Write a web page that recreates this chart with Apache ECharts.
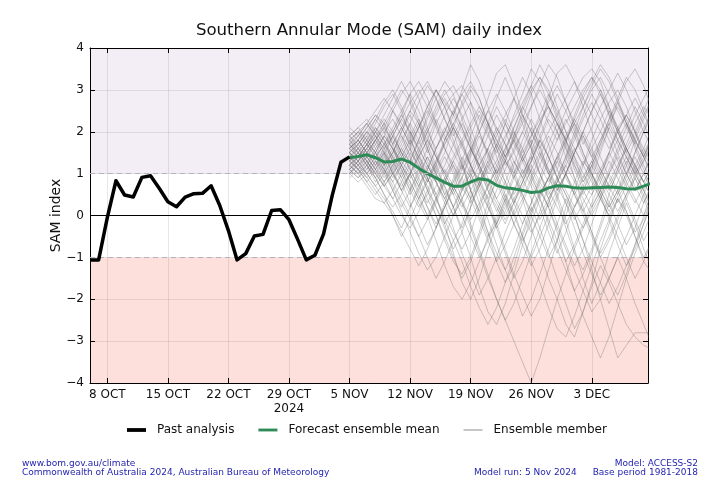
<!DOCTYPE html>
<html><head><meta charset="utf-8">
<script src="https://cdn.jsdelivr.net/npm/echarts@6/dist/echarts.min.js"></script>
<style>html,body{margin:0;padding:0;background:#fff}#c{width:720px;height:480px}</style>
</head><body><div id="c"></div>
<script>
// x = day index, 8 OCT 2024 = 0
const tickDays = [0, 7, 14, 21, 28, 35, 42, 49, 56];
const tickLabels = ['8 OCT', '15 OCT', '22 OCT', '29 OCT\n2024', '5 NOV', '12 NOV', '19 NOV', '26 NOV', '3 DEC'];
const yTicks = [-4, -3, -2, -1, 0, 1, 2, 3, 4];

const pastStartDay = -2; // 6 OCT
const pastValues = [-1.06, -1.06, -0.05, 0.83, 0.49, 0.44, 0.91, 0.95, 0.65, 0.33, 0.21, 0.44, 0.52, 0.53, 0.71, 0.24,
  -0.36, -1.06, -0.91, -0.49, -0.45, 0.12, 0.14, -0.10, -0.57, -1.06, -0.95, -0.44, 0.48, 1.27, 1.40];

const forecastStartDay = 28; // 5 NOV
const meanValues = [1.38, 1.41, 1.45, 1.38, 1.28, 1.29, 1.35, 1.27, 1.13, 1.00, 0.90, 0.79, 0.70, 0.70, 0.80, 0.88,
  0.85, 0.72, 0.66, 0.64, 0.60, 0.55, 0.57, 0.66, 0.71, 0.70, 0.66, 0.65, 0.66, 0.67, 0.68, 0.67, 0.64, 0.63, 0.70, 0.78];

const member01 = [1.6,1.8,2.1,2.4,2.2,1.7, 1.2,0.9,1.1,1.6,2.2,2.6, 2.9,3.1,2.7,2.0,1.4,1.0, 1.3,1.9,2.5,3.0,3.3,3.0, 2.4,1.8,1.2,0.7,0.5,0.9, 1.5,2.1,2.4,2.0,1.5,1.1];
const member02 = [1.2,1.0,0.7,0.4,0.3,0.6, 1.0,1.5,1.2,0.6,0.0,-0.6, -1.1,-1.4,-1.0,-0.4,0.3,0.9, 1.3,1.0,0.4,-0.3,-0.9,-1.5, -2.0,-2.6,-2.9,-2.3,-1.6,-0.8, -0.2,0.4,0.1,-0.5,-1.1,-1.4];
const member03 = [1.9,2.1,1.8,1.5,1.9,2.5, 2.9,3.2,2.8,2.1,1.5,1.0, 0.6,0.9,1.5,2.2,2.8,3.4, 3.6,3.1,2.4,1.7,1.2,0.8, 1.1,1.7,2.4,2.9,3.3,3.0, 2.4,1.8,1.4,1.0,1.3,1.8];
const member04 = [1.0,0.8,1.0,1.3,1.1,0.6, 0.1,-0.4,-0.9,-1.3,-1.0,-0.5, 0.0,0.6,1.1,0.9,0.4,-0.2, -0.8,-1.4,-1.9,-2.4,-2.0,-1.3, -0.6,0.2,0.8,1.3,1.0,0.5, -0.1,-0.7,-1.2,-0.8,-0.2,0.4];
const member05 = [1.5,1.3,1.6,2.0,2.3,2.0, 1.5,1.3,1.8,2.4,3.0,2.6, 2.0,1.3,0.6,0.0,-0.5,-0.2, 0.4,1.0,1.6,2.1,1.7,1.0, 0.4,-0.3,-0.9,-1.3,-0.8,-0.2, 0.5,1.1,1.7,2.2,2.6,2.3];
const member06 = [1.3,1.5,1.3,0.9,0.5,0.2, 0.5,1.0,1.4,1.1,0.5,-0.2, -0.9,-1.6,-2.0,-1.5,-0.8,-0.2, 0.3,0.9,1.4,1.9,2.3,2.6, 2.2,1.6,0.9,0.2,-0.4,-1.0, -1.5,-1.9,-1.4,-0.7,0.0,0.6];
const member07 = [1.7,1.5,1.8,2.2,2.6,2.9, 2.5,1.9,1.3,0.8,1.2,1.8, 2.4,2.9,3.2,2.8,2.2,1.6, 1.2,1.5,2.0,2.6,3.1,3.6, 3.3,2.7,2.1,1.5,1.0,0.6, 0.2,0.6,1.2,1.8,2.3,2.8];
const member08 = [1.1,1.3,1.5,1.2,0.8,0.4, 0.0,-0.3,0.1,0.6,1.1,0.7, 0.2,-0.4,-1.0,-1.7,-2.3,-2.6, -2.1,-1.4,-0.7,0.0,0.5,0.9, 0.5,-0.1,-0.8,-1.5,-2.1,-1.6, -0.9,-0.3,0.3,-0.2,-0.8,-1.3];
const member09 = [1.4,1.6,1.9,1.6,1.2,1.5, 2.0,2.5,2.2,1.6,1.0,0.5, 0.8,1.3,1.9,2.4,2.0,1.4, 0.8,0.3,-0.2,0.3,0.9,1.5, 2.0,2.5,2.9,3.3,3.5,3.2, 2.6,2.0,1.5,1.1,0.8,1.2];
const member10 = [0.9,1.1,0.8,0.5,0.8,1.2, 1.6,1.3,0.8,0.2,-0.3,0.2, 0.7,1.2,0.9,0.3,-0.4,-1.1, -1.6,-1.2,-0.5,0.1,0.6,0.2, -0.4,-1.1,-1.8,-2.4,-2.9,-3.4, -2.9,-2.2,-1.5,-0.9,-0.4,0.1];
const member11 = [1.8,2.0,2.2,1.9,1.5,1.0, 0.7,1.0,1.5,2.0,2.5,2.9, 3.1,2.7,2.1,1.5,1.0,1.3, 1.8,2.4,2.9,3.5,3.2,2.6, 2.0,1.4,0.9,0.5,0.9,1.5, 2.1,2.7,3.2,3.5,3.1,2.5];
const member12 = [1.2,1.0,1.2,1.6,1.9,1.6, 1.1,0.6,0.2,0.5,1.0,1.4, 1.0,0.4,-0.2,-0.8,-1.4,-2.0, -2.5,-3.0,-3.5,-4.0,-3.4,-2.7, -2.0,-1.4,-0.8,-0.3,0.2,0.6, 1.0,0.6,0.1,-0.4,-0.1,0.4];
const member13 = [1.5,1.7,1.4,1.1,1.4,1.9, 2.3,2.0,1.5,0.9,0.4,-0.1, -0.6,-0.2,0.4,1.0,1.6,2.1, 1.7,1.1,0.5,0.0,-0.5,-1.0, -0.6,0.0,0.6,1.2,1.8,2.3, 2.7,3.0,2.6,2.0,1.4,0.9];
const member14 = [2.0,1.8,1.5,1.8,2.2,2.6, 3.0,2.7,2.2,1.6,1.1,1.5, 2.1,2.7,3.1,2.8,2.2,1.6, 1.0,0.5,0.9,1.5,2.1,2.8, 3.4,3.6,3.2,2.6,2.0,1.4, 0.9,0.5,0.9,1.5,2.0,2.4];
const member15 = [1.3,1.1,0.9,1.2,1.5,1.2, 0.8,0.3,-0.2,-0.7,-0.3,0.3, 0.9,1.4,1.0,0.5,-0.1,-0.7, -1.3,-1.8,-2.4,-2.0,-1.4,-0.8, -0.2,0.4,0.0,-0.6,-1.3,-2.0, -2.7,-3.4,-3.1,-2.8,-2.8,-2.8];
const member16 = [1.6,1.4,1.7,2.1,1.8,1.3, 0.9,1.3,1.8,2.3,2.8,3.2, 2.9,2.3,1.7,1.1,0.6,0.2, -0.2,0.3,0.8,1.3,1.8,1.4, 0.9,0.3,-0.3,-0.9,-1.4,-1.9, -1.5,-1.0,-1.5,-2.1,-2.6,-3.1];
const member17 = [1.1,0.9,1.2,0.9,0.5,0.0, -0.5,-0.1,0.4,0.9,1.3,1.7, 2.1,1.7,1.2,0.7,1.1,1.6, 2.2,2.8,3.3,2.9,2.3,1.7, 1.1,0.6,0.2,0.6,1.1,1.6, 2.1,1.7,1.2,0.7,0.3,0.7];
const member18 = [1.4,1.2,1.4,1.7,2.0,2.3, 1.9,1.4,0.9,0.4,0.0,-0.5, -1.0,-1.5,-1.1,-0.5,0.1,0.6, 1.1,1.6,2.0,1.6,1.0,0.4, -0.2,-0.7,-1.2,-0.8,-0.2,0.4, 1.0,1.5,1.9,2.4,2.8,3.2];
const member19 = [1.7,1.9,1.7,1.4,1.0,1.3, 1.7,2.2,2.7,3.1,2.8,2.3, 1.8,1.2,0.6,0.1,-0.4,-0.9, -1.3,-0.8,-0.2,0.3,0.8,1.3, 1.8,2.3,1.9,1.4,0.9,0.4, 0.0,-0.5,-1.0,-1.5,-1.1,-0.6];
const member20 = [1.0,1.2,1.4,1.1,0.7,1.0, 1.3,1.0,0.5,0.0,-0.6,-1.2, -1.7,-2.0,-1.6,-1.1,-0.5,0.0, 0.5,0.1,-0.5,-1.1,-1.6,-2.2, -2.7,-2.9,-2.4,-1.8,-1.2,-0.6, -0.1,0.4,0.0,-0.5,-1.0,-0.6];
const member21 = [1.5,1.7,2.0,1.7,1.3,0.9, 1.2,1.6,2.1,2.6,3.0,2.7, 2.4,3.0,3.6,3.2,2.6,2.0, 1.4,1.8,2.3,2.9,3.3,2.9, 2.3,1.7,1.1,0.6,0.2,0.6, 1.1,1.6,2.1,2.6,2.2,1.7];
const member22 = [1.3,1.5,1.2,0.8,1.1,1.5, 1.9,1.6,1.1,0.6,0.2,-0.2, 0.2,0.7,1.2,0.8,0.3,-0.3, -0.9,-1.5,-1.1,-0.5,0.1,0.7, 1.3,1.8,2.3,2.8,3.2,3.6, 3.3,2.8,2.2,1.6,1.1,0.6];
const member23 = [1.8,1.6,1.3,1.0,0.7,1.0, 1.4,1.8,1.4,0.9,0.4,0.0, -0.4,-0.8,-0.4,0.2,0.7,1.2, 1.6,2.0,1.6,1.0,0.4,-0.2, -0.8,-1.3,-1.8,-1.4,-0.9,-0.3, 0.3,0.8,1.3,0.9,0.4,-0.1];
const member24 = [1.2,1.4,1.6,1.9,1.6,1.1, 0.6,0.2,0.6,1.1,1.6,2.1, 1.7,1.2,0.6,0.1,0.5,1.0, 1.5,2.1,2.6,3.1,3.6,3.2, 2.6,2.0,1.4,0.8,1.2,1.7, 2.3,2.8,3.3,3.0,2.5,2.0];
const member25 = [1.6,1.8,1.5,1.2,1.6,2.0, 2.4,2.9,3.2,2.8,2.2,1.6, 1.1,0.6,1.0,1.6,2.2,2.8, 3.3,2.8,2.2,1.6,1.0,0.5, 0.9,1.4,1.9,2.4,2.9,2.5, 2.0,1.5,1.0,0.6,1.0,1.5];
const member26 = [1.4,1.2,0.9,0.6,0.3,0.0, -0.4,-0.8,-1.2,-0.8,-0.3,0.2, 0.7,0.3,-0.3,-0.9,-1.5,-2.0, -2.5,-2.1,-1.5,-0.9,-0.3,0.3, 0.9,0.5,0.0,-0.6,-1.1,-1.6, -2.1,-1.7,-1.2,-0.7,-0.2,0.3];
const member27 = [1.9,2.1,2.3,2.0,2.4,2.8, 3.2,2.8,2.3,1.7,1.2,0.7, 0.2,-0.3,0.2,0.8,1.3,0.9, 0.4,-0.2,-0.7,-1.2,-0.8,-0.2, 0.4,1.0,1.5,2.0,2.5,3.0, 2.6,2.1,1.6,2.0,2.5,3.0];
const member28 = [1.1,1.3,1.0,0.7,0.4,0.1, -0.3,0.2,0.7,1.2,0.8,0.3, -0.3,-0.9,-1.4,-1.9,-1.5,-1.0, -0.4,0.1,0.6,1.1,0.7,0.2, -0.3,-0.8,-1.3,-1.8,-2.3,-2.0, -1.5,-1.0,-0.5,0.0,0.5,1.0];
const member29 = [1.5,1.3,1.6,1.9,2.2,1.9, 1.5,1.1,0.7,1.1,1.6,2.0, 2.5,2.1,1.6,1.1,0.6,0.1, 0.6,1.2,1.8,2.3,1.9,1.4, 0.9,1.4,2.0,2.6,3.1,3.5, 3.2,2.7,2.2,1.7,1.2,0.8];
const member30 = [1.3,1.1,1.3,1.5,1.2,0.8, 0.4,0.0,-0.5,-1.0,-1.5,-1.1, -0.6,-1.1,-1.7,-2.2,-2.6,-2.2, -1.6,-1.0,-0.4,0.2,-0.3,-0.9, -1.5,-2.1,-2.7,-2.3,-1.7,-1.2, -1.6,-2.1,-2.6,-2.9,-3.1,-3.2];
const member31 = [1.4,1.6,1.4,1.1,0.8,1.1, 1.5,1.9,2.3,1.9,1.4,0.9, 0.5,0.9,1.4,1.9,1.5,1.0, 0.5,0.0,0.4,0.9,1.4,1.9, 1.5,1.0,0.5,0.1,0.5,1.0, 1.5,2.0,1.6,1.1,0.6,0.2];
const member32 = [1.7,1.5,1.2,1.5,1.9,1.6, 1.2,0.8,0.4,0.8,1.3,1.8, 2.2,1.8,1.2,0.7,0.2,-0.3, 0.1,0.6,1.1,0.7,0.2,-0.4, -0.9,-0.4,0.2,0.7,1.2,0.8, 0.3,-0.2,-0.7,-0.3,0.3,0.8];
const member33 = [1.2,1.4,1.7,2.0,1.7,1.3, 0.9,0.5,0.9,1.4,1.0,0.5, 0.0,0.4,0.9,1.4,1.9,2.4, 2.0,1.5,1.0,1.4,1.9,2.4, 2.9,2.5,2.0,1.5,1.0,0.5, 0.1,0.5,1.0,1.5,2.0,2.5];
const member34 = [1.5,1.3,1.0,1.3,1.0,0.6, 0.2,0.6,1.1,0.7,0.2,-0.3, -0.8,-0.4,0.2,0.7,1.2,0.8, 0.3,-0.2,-0.6,-0.2,0.4,0.9, 1.4,1.0,0.5,0.0,-0.5,-1.0, -0.6,-0.1,0.4,0.9,0.5,0.0];
const member35 = [1.8,2.0,1.8,2.1,1.8,1.4, 1.8,2.2,1.8,1.3,0.8,1.2, 1.7,2.2,1.8,1.2,0.7,1.1, 1.6,2.1,2.6,2.2,1.6,1.1, 0.6,1.0,1.5,2.0,1.6,1.1, 0.7,1.1,1.6,1.2,0.8,1.2];
const member36 = [1.0,1.2,1.0,0.7,1.0,1.4, 1.1,0.7,0.3,-0.1,0.3,0.8, 1.3,0.9,0.4,-0.1,-0.6,-1.1, -0.7,-0.2,0.3,0.8,0.4,-0.1, -0.6,-1.1,-0.7,-0.2,0.3,0.8, 1.3,0.9,0.4,-0.1,-0.6,-0.2];
const member37 = [1.6,1.4,1.7,1.5,1.2,1.5, 2.0,2.4,2.0,1.5,1.9,2.4, 2.8,2.4,1.9,1.4,0.9,0.4, 0.8,1.3,0.9,0.4,-0.1,0.3, 0.8,1.3,1.8,2.3,2.7,2.3, 1.8,1.3,0.8,0.4,0.0,0.4];
const member38 = [1.3,1.1,1.4,1.8,1.5,1.0, 0.6,1.0,0.6,0.2,-0.2,0.2, 0.6,1.1,1.6,1.2,0.7,0.3, -0.1,0.3,0.8,1.3,1.8,1.4, 0.9,0.5,0.1,-0.3,0.1,0.5, 1.0,1.4,1.0,0.6,1.0,1.5];
const member39 = [1.9,1.7,2.0,2.3,2.0,1.6, 1.3,1.7,2.1,2.5,2.1,1.6, 1.2,0.7,0.3,0.7,1.2,1.7, 2.2,1.8,1.3,0.8,1.2,1.7, 2.2,1.8,1.3,0.9,1.3,1.8, 2.3,2.7,2.3,1.8,1.4,1.9];
const member40 = [1.1,0.9,1.1,1.4,1.1,0.7, 0.3,-0.1,-0.5,-0.1,0.4,0.9, 0.5,0.0,-0.5,-1.0,-0.6,-0.1, 0.4,0.0,-0.5,-1.0,-0.5,0.0, 0.5,1.0,0.6,0.1,-0.4,-0.9, -0.5,0.0,0.5,1.0,0.6,0.1];
const member41 = [1.6,1.9,2.2,2.5,2.8,2.5, 2.1,1.7,2.1,2.6,3.0,2.6, 2.1,1.6,1.2,1.6,2.1,2.6, 2.2,1.7,1.3,1.7,2.2,2.7, 3.1,2.7,2.2,1.7,2.1,2.6, 3.0,3.4,3.0,2.5,2.0,1.6];
const member42 = [1.4,1.7,2.0,1.8,2.1,2.5, 2.2,1.8,1.4,1.8,2.3,1.9, 1.5,1.1,1.5,2.0,2.5,2.1, 1.7,1.3,0.9,1.3,1.8,2.3, 2.0,1.6,1.2,0.8,1.2,1.7, 2.2,1.8,1.4,1.0,1.4,1.9];
const member43 = [1.7,2.0,1.7,1.4,1.7,2.1, 2.5,2.9,2.5,2.0,1.6,2.0, 2.5,2.9,2.5,2.0,1.5,1.0, 1.4,1.9,2.4,2.0,1.5,1.0, 0.6,1.0,1.5,2.0,2.5,2.9, 2.5,2.0,1.5,1.9,2.4,2.8];
const member44 = [1.2,1.5,1.8,1.5,1.1,0.8, 1.2,1.6,1.2,0.8,1.2,1.7, 2.1,1.7,1.2,0.8,0.4,0.8, 1.3,1.8,1.4,0.9,0.5,0.9, 1.4,1.9,2.3,1.9,1.4,1.0, 0.6,1.0,1.4,1.0,0.6,1.0];
const member45 = [1.9,1.6,1.9,2.3,2.7,3.0, 2.6,2.1,1.7,2.1,2.6,3.0, 2.6,2.1,1.6,2.0,2.5,2.9, 2.5,2.0,1.5,1.9,2.4,2.9, 2.5,2.0,1.6,1.2,1.6,2.0, 2.5,2.1,1.6,1.2,1.6,2.1];
const member46 = [1.5,1.2,1.5,1.8,1.4,1.0, 0.6,1.0,1.4,1.8,1.4,1.0, 0.6,0.2,0.6,1.0,1.4,1.9, 2.3,1.9,1.4,1.0,0.6,0.2, 0.6,1.0,1.5,1.9,1.5,1.1, 0.7,0.3,0.7,1.1,1.5,1.9];
const member47 = [1.3,1.6,1.3,1.0,1.3,1.7, 2.1,1.7,1.3,0.9,0.5,0.9, 1.3,1.7,2.1,2.5,2.1,1.7, 1.3,0.9,1.3,1.7,2.2,2.6, 2.2,1.8,1.4,1.0,0.6,1.0, 1.4,1.8,2.2,1.8,1.4,1.0];
const member48 = [1.8,1.5,1.2,0.9,1.2,1.6, 1.2,0.8,0.4,0.0,0.4,0.8, 1.2,0.8,0.4,0.8,1.3,1.7, 1.3,0.9,0.5,0.1,0.5,0.9, 1.3,0.9,0.5,0.9,1.3,0.9, 0.5,0.1,0.5,0.9,1.3,1.7];
const member49 = [1.6,1.8,2.1,2.4,2.1,1.7, 2.1,2.5,2.9,3.2,2.8,2.3, 1.9,2.3,2.7,2.3,1.9,1.5, 1.9,2.3,2.7,3.1,2.7,2.2, 1.8,2.2,2.6,3.0,3.3,2.9, 2.4,2.0,2.4,2.8,2.4,2.0];
const member50 = [1.0,1.3,1.6,1.3,0.9,1.2, 1.6,2.0,1.6,1.2,0.8,0.4, 0.8,1.2,1.6,1.2,0.8,0.4, 0.0,0.4,0.8,1.2,0.8,0.4, 0.8,1.2,0.8,0.4,0.0,0.4, 0.8,1.2,1.6,1.2,0.8,0.4];
const member51 = [1.7,1.4,1.7,2.0,1.7,2.0, 2.4,2.0,1.6,2.0,2.4,2.8, 2.4,2.0,1.6,1.2,1.6,2.0, 2.4,2.8,2.4,2.0,1.6,2.0, 2.4,2.8,3.2,2.8,2.4,2.0, 1.6,2.0,2.4,2.0,1.6,1.2];
const member52 = [1.4,1.1,0.8,1.1,1.5,1.9, 1.5,1.1,0.7,0.3,0.7,1.1, 0.7,0.3,-0.1,0.3,0.7,1.1, 0.7,0.3,0.7,1.1,1.5,1.1, 0.7,0.3,-0.1,0.3,0.7,1.1, 1.5,1.1,0.7,0.3,0.7,1.1];
const member53 = [2.1,1.9,2.2,1.9,1.6,1.9, 2.3,2.7,3.0,2.6,2.2,1.8, 2.2,2.6,3.0,2.6,2.2,1.8, 1.4,1.8,2.2,2.6,3.0,2.6, 2.2,1.8,2.2,2.6,3.0,3.3, 2.9,2.5,2.1,1.7,2.1,2.5];
const member54 = [1.2,1.0,1.3,1.0,0.7,0.4, 0.8,1.2,1.6,1.2,0.8,0.4, 0.0,0.4,0.8,1.2,1.6,1.2, 0.8,0.4,0.0,-0.4,0.0,0.4, 0.8,1.2,1.6,1.2,0.8,0.4, 0.0,0.4,0.8,1.2,0.8,0.4];
const member55 = [1.5,1.8,1.5,1.8,2.1,1.8, 1.4,1.8,2.2,1.8,1.4,1.0, 1.4,1.8,2.2,2.6,2.2,1.8, 1.4,1.0,1.4,1.8,1.4,1.0, 1.4,1.8,2.2,1.8,1.4,1.8, 2.2,2.6,2.2,1.8,1.4,1.8];
const member56 = [1.1,1.4,1.1,1.4,1.7,1.4, 1.0,0.6,1.0,1.4,1.0,0.6, 0.2,0.6,1.0,0.6,0.2,-0.2, 0.2,0.6,1.0,1.4,1.0,0.6, 0.2,-0.2,0.2,0.6,1.0,0.6, 0.2,0.6,1.0,1.4,1.0,0.6];

const members = [member01, member02, member03, member04, member05, member06, member07, member08, member09, member10,
  member11, member12, member13, member14, member15, member16, member17, member18, member19, member20,
  member21, member22, member23, member24, member25, member26, member27, member28, member29, member30,
  member31, member32, member33, member34, member35, member36, member37, member38, member39, member40,
  member41, member42, member43, member44, member45, member46, member47, member48, member49, member50,
  member51, member52, member53, member54, member55, member56];

const FONT = 'DejaVu Sans';
const LAV = '#f3eef6';
const PINK = '#fde0dc';
const GRIDC = 'rgba(0,0,0,0.09)';

function toXY(start, arr) { return arr.map((v, i) => [start + i, v]); }

const chart = echarts.init(document.getElementById('c'), null, { renderer: 'canvas' });

const series = [];
// grid helper lines (vertical grid, +/-1 dashed)
series.push({
  type: 'line', data: [], silent: true, z: 1,
  markLine: {
    silent: true, symbol: 'none', label: { show: false }, animation: false,
    data: tickDays.map(d => ({ xAxis: d, lineStyle: { color: GRIDC, width: 1, type: 'solid' } }))
      .concat([1, -1].map(v => ({ yAxis: v, lineStyle: { color: '#b8b0b8', width: 1, type: [5, 4] } })))
  }
});
members.forEach((m) => {
  series.push({
    name: 'Ensemble member', type: 'line', data: toXY(forecastStartDay, m),
    symbol: 'none', silent: true, z: 2,
    color: '#888',
    lineStyle: { color: 'rgba(105,105,105,0.34)', width: 1 }
  });
});
// zero line
series.push({
  type: 'line', data: [], silent: true, z: 3,
  markLine: {
    silent: true, symbol: 'none', label: { show: false }, animation: false,
    data: [{ yAxis: 0, lineStyle: { color: '#000', width: 1, type: 'solid' } }]
  }
});
series.push({
  name: 'Forecast ensemble mean', type: 'line', data: toXY(forecastStartDay, meanValues),
  symbol: 'none', z: 4, color: '#2e8b57',
  lineStyle: { color: '#2e8b57', width: 3 }
});
series.push({
  name: 'Past analysis', type: 'line', data: toXY(pastStartDay, pastValues),
  symbol: 'none', z: 5, color: '#000',
  lineStyle: { color: '#000', width: 3.5, join: 'round' }
});

const xCommon = {
  type: 'value', min: -2, max: 62.5,
  axisLine: { show: true, onZero: false, lineStyle: { color: '#000', width: 1 } },
  axisTick: { show: true, inside: true, length: 5, customValues: tickDays, lineStyle: { color: '#000' } },
  splitLine: { show: false }
};
const yCommon = {
  type: 'value', min: -4, max: 4, interval: 1,
  axisLine: { show: true, onZero: false, lineStyle: { color: '#000', width: 1 } },
  axisTick: { show: true, inside: true, length: 5, lineStyle: { color: '#000' } }
};

chart.setOption({
  animation: false,
  backgroundColor: '#fff',
  grid: { left: 90, right: 72, top: 48, bottom: 97, containLabel: false },
  xAxis: [
    Object.assign({}, xCommon, {
      position: 'bottom',
      axisLabel: {
        customValues: tickDays, color: '#111', fontSize: 12, fontFamily: FONT, margin: 5, lineHeight: 14,
        formatter: v => tickLabels[tickDays.indexOf(v)] || ''
      }
    }),
    Object.assign({}, xCommon, { position: 'top', axisLabel: { show: false } })
  ],
  yAxis: [
    Object.assign({}, yCommon, {
      position: 'left',
      name: 'SAM index', nameLocation: 'middle', nameGap: 27, nameMoveOverlap: false,
      nameTextStyle: { fontSize: 14, fontFamily: FONT, color: '#111' },
      axisLabel: { color: '#111', fontSize: 12, fontFamily: FONT, margin: 6,
        formatter: v => String(v).replace('-', '\u2212') },
      splitLine: { show: true, lineStyle: { color: GRIDC, width: 1 } },
      splitArea: { show: true, areaStyle: { color: [PINK, PINK, PINK, '#ffffff', '#ffffff', LAV, LAV, LAV] } }
    }),
    Object.assign({}, yCommon, { position: 'right', axisLabel: { show: false }, splitLine: { show: false } })
  ],
  legend: {
    left: 122, top: 419, itemGap: 24, itemWidth: 19, itemHeight: 12,
    textStyle: { fontSize: 12, fontFamily: FONT, color: '#111', padding: [0, 0, 0, 6] },
    selectedMode: false,
    data: [
      { name: 'Past analysis', icon: 'path://M0,0H20V4H0Z', itemStyle: { color: '#000' } },
      { name: 'Forecast ensemble mean', icon: 'path://M0,0H20V3H0Z', itemStyle: { color: '#2e8b57' } },
      { name: 'Ensemble member', icon: 'path://M0,0H20V1H0Z', itemStyle: { color: '#888' } }
    ]
  },
  graphic: [
    { type: 'text', x: 369, y: 31, style: { text: 'Southern Annular Mode (SAM) daily index', font: '16.6px "DejaVu Sans"', fill: '#111', align: 'center', verticalAlign: 'middle' } },
    { type: 'text', x: 22, y: 464, style: { text: 'www.bom.gov.au/climate', font: '9px "DejaVu Sans"', fill: '#2424b0', verticalAlign: 'middle' } },
    { type: 'text', x: 22, y: 473, style: { text: 'Commonwealth of Australia 2024, Australian Bureau of Meteorology', font: '9px "DejaVu Sans"', fill: '#2424b0', verticalAlign: 'middle' } },
    { type: 'text', x: 698, y: 464, style: { text: 'Model: ACCESS-S2', font: '9px "DejaVu Sans"', fill: '#2424b0', align: 'right', verticalAlign: 'middle' } },
    { type: 'text', x: 474, y: 473, style: { text: 'Model run: 5 Nov 2024', font: '9px "DejaVu Sans"', fill: '#2424b0', verticalAlign: 'middle' } },
    { type: 'text', x: 698, y: 473, style: { text: 'Base period 1981-2018', font: '9px "DejaVu Sans"', fill: '#2424b0', align: 'right', verticalAlign: 'middle' } }
  ],
  series: series
});
</script>
</body></html>
